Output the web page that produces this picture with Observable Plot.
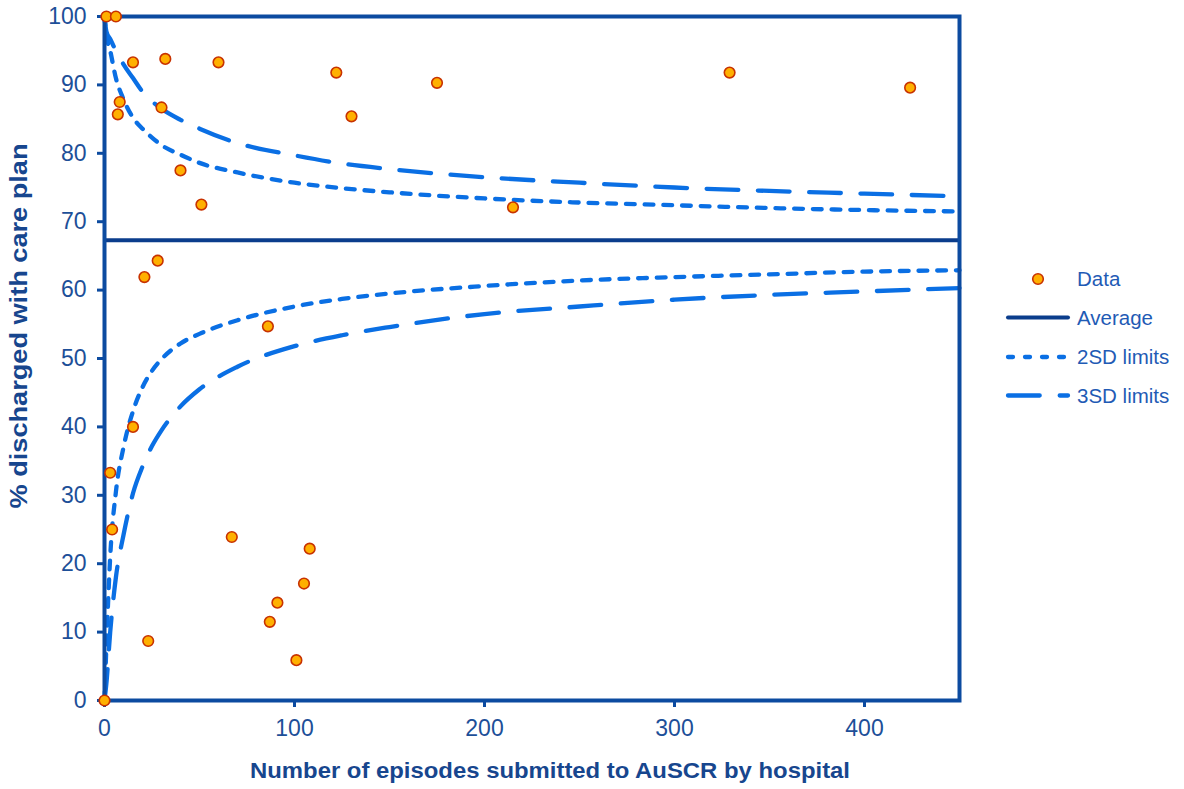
<!DOCTYPE html>
<html>
<head>
<meta charset="utf-8">
<script src="https://cdn.jsdelivr.net/npm/d3@7"></script>
<script src="https://cdn.jsdelivr.net/npm/@observablehq/plot@0.6"></script>
<style>
  html, body { margin: 0; padding: 0; background: #ffffff; }
  #chart { position: relative; width: 1184px; height: 789px; }
</style>
</head>
<body>
<div id="chart"></div>
<script>
// ---- data ----
const episodes = [1, 6, 15, 32, 60, 122, 175, 329, 424, 8, 7, 30, 130, 40, 51, 215, 28, 21, 86, 15, 3, 4, 67, 108, 105, 91, 87, 23, 101, 0];
const pctCarePlan = [100, 100, 93.3, 93.8, 93.3, 91.8, 90.3, 91.8, 89.6, 87.5, 85.7, 86.7, 85.4, 77.5, 72.5, 72.1, 64.3, 61.9, 54.7, 40.0, 33.3, 25.0, 23.9, 22.2, 17.1, 14.3, 11.5, 8.7, 5.9, 0];
const averagePct = 67.3;
const limitN   = [0, 1, 3, 6, 10, 15, 20, 25, 30, 40, 50, 70, 100, 125, 150, 200, 250, 300, 350, 400, 450];
const upper3SD = [100, 97.8, 96.7, 95.0, 93.0, 91.0, 89.0, 87.6, 86.5, 84.9, 83.6, 81.5, 79.7, 78.5, 77.7, 76.5, 75.7, 75.0, 74.5, 74.1, 73.7];
const upper2SD = [100, 97.3, 95.0, 91.0, 87.9, 85.2, 83.6, 82.3, 81.2, 79.8, 78.6, 77.2, 75.7, 74.9, 74.3, 73.4, 72.8, 72.4, 72.0, 71.7, 71.5];
const lower2SD = [0, 8.0, 21.0, 30.5, 37.0, 42.3, 45.8, 48.2, 49.9, 52.2, 53.6, 55.6, 57.6, 58.7, 59.5, 60.6, 61.4, 61.9, 62.3, 62.7, 62.9];
const lower3SD = [0, 2.5, 10.0, 18.0, 24.2, 30.3, 34.2, 37.2, 39.5, 43.0, 45.5, 48.8, 51.8, 53.4, 54.6, 56.5, 57.6, 58.6, 59.3, 59.8, 60.3];
const xTicks = [0, 100, 200, 300, 400];
const yTicks = [0, 10, 20, 30, 40, 50, 60, 70, 80, 90, 100];
const xTitle = "Number of episodes submitted to AuSCR by hospital";
const yTitle = "% discharged with care plan";
const legendLabels = ["Data", "Average", "2SD limits", "3SD limits"];

// ---- styles ----
const FONT = '"Liberation Sans", Arial, Helvetica, sans-serif';
const frameColor = "#0c4ba0";
const avgColor = "#0b3d8c";
const limitColor = "#0a6fe4";
const tickText = "#1d4f98";
const titleColor = "#17468e";
const legendText = "#1f5bb5";
const dotFill = "#ffb000";
const dotStroke = "#c83200";
const dash2 = "8.8,9.9";
const dash3 = "31.7,19.6";

const rows = arr => limitN.map((n, i) => ({n, v: arr[i]}));
const pts = episodes.map((n, i) => ({n, p: pctCarePlan[i]}));
const lineOpts = dash => ({x: "n", y: "v", stroke: limitColor, strokeWidth: 4.3,
  strokeDasharray: dash, strokeLinecap: "round", curve: "monotone-x"});

const chart = Plot.plot({
  width: 1184,
  height: 789,
  marginLeft: 104,
  marginRight: 225,
  marginTop: 16,
  marginBottom: 89,
  style: {fontFamily: FONT, fontSize: "23px", background: "#ffffff", overflow: "visible"},
  x: {domain: [0, 450]},
  y: {domain: [0, 100]},
  marks: [
    Plot.axisX({ticks: xTicks, tickSize: 7, tickPadding: 12, stroke: frameColor, strokeWidth: 3,
      fill: tickText, fontSize: 23, label: null}),
    Plot.axisY({ticks: yTicks, tickSize: 7, tickPadding: 11, stroke: frameColor, strokeWidth: 3,
      fill: tickText, fontSize: 23, label: null}),
    Plot.line(rows(upper2SD), lineOpts(dash2)),
    Plot.line(rows(lower2SD), lineOpts(dash2)),
    Plot.line(rows(upper3SD), lineOpts(dash3)),
    Plot.line(rows(lower3SD), lineOpts(dash3)),
    Plot.ruleY([averagePct], {stroke: avgColor, strokeWidth: 4}),
    Plot.frame({stroke: frameColor, strokeWidth: 4}),
    Plot.dot(pts, {x: "n", y: "p", r: 5.3, fill: dotFill, stroke: dotStroke, strokeWidth: 1.6})
  ]
});

document.getElementById("chart").appendChild(chart);

// ---- titles and legend, added into the same SVG ----
const svg = d3.select(chart);
svg.append("text")
  .attr("x", 550).attr("y", 778)
  .attr("text-anchor", "middle")
  .attr("font-family", FONT).attr("font-size", 22).attr("font-weight", "bold")
  .attr("textLength", 600).attr("lengthAdjust", "spacingAndGlyphs")
  .attr("fill", titleColor)
  .text(xTitle);
svg.append("text")
  .attr("transform", "translate(27,326) rotate(-90)")
  .attr("text-anchor", "middle")
  .attr("font-family", FONT).attr("font-size", 23).attr("font-weight", "bold")
  .attr("textLength", 365).attr("lengthAdjust", "spacingAndGlyphs")
  .attr("fill", titleColor)
  .text(yTitle);

const lg = svg.append("g");
const rowY = [279, 317.5, 357, 395.5];
lg.append("circle").attr("cx", 1038).attr("cy", rowY[0]).attr("r", 5.3)
  .attr("fill", dotFill).attr("stroke", dotStroke).attr("stroke-width", 1.6);
lg.append("line").attr("x1", 1008).attr("x2", 1068).attr("y1", rowY[1]).attr("y2", rowY[1])
  .attr("stroke", avgColor).attr("stroke-width", 4).attr("stroke-linecap", "round");
lg.append("line").attr("x1", 1008).attr("x2", 1068).attr("y1", rowY[2]).attr("y2", rowY[2])
  .attr("stroke", limitColor).attr("stroke-width", 4.3).attr("stroke-linecap", "round")
  .attr("stroke-dasharray", "5,12");
lg.append("line").attr("x1", 1008).attr("x2", 1068).attr("y1", rowY[3]).attr("y2", rowY[3])
  .attr("stroke", limitColor).attr("stroke-width", 4.3).attr("stroke-linecap", "round")
  .attr("stroke-dasharray", "31.7,20");
legendLabels.forEach((t, i) => {
  lg.append("text").attr("x", 1077).attr("y", rowY[i]).attr("dy", "0.36em")
    .attr("text-anchor", "start")
    .attr("font-family", FONT).attr("font-size", 20.5).attr("fill", legendText).text(t);
});
</script>
</body>
</html>
